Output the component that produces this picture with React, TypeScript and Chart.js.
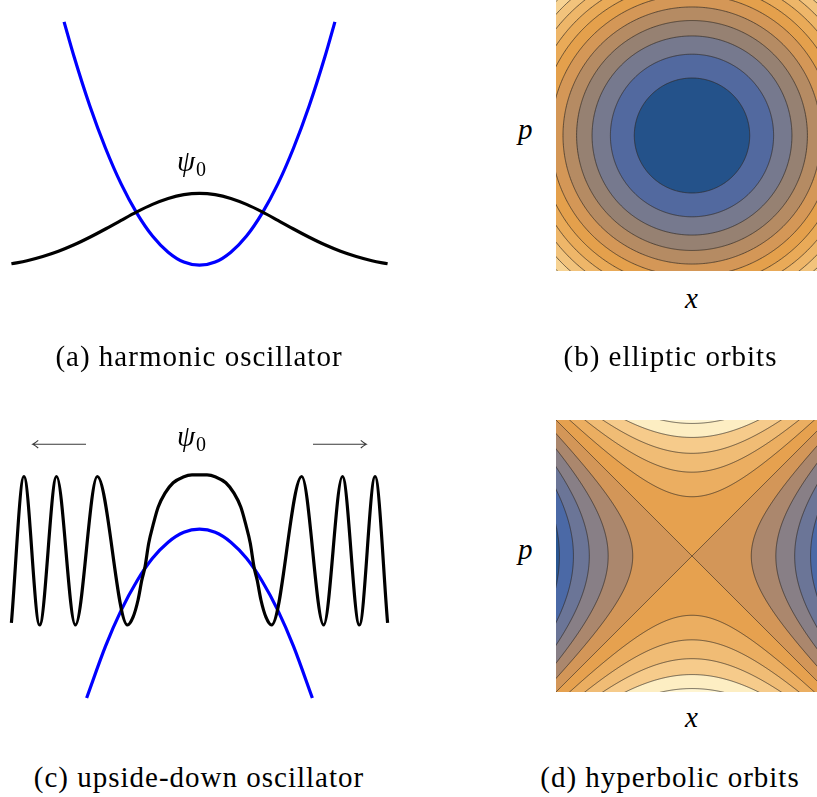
import React, { useEffect, useRef } from 'react';
import { Chart, registerables } from 'chart.js';

Chart.register(...registerables);

// ---------- Panel (a): harmonic oscillator ----------
const gaussX = [-3, -2.75, -2.5, -2.25, -2, -1.75, -1.5, -1.25, -1, -0.75, -0.5, -0.25, 0, 0.25, 0.5, 0.75, 1, 1.25, 1.5, 1.75, 2, 2.25, 2.5, 2.75, 3];
const gaussY = [0.027, 0.086, 0.166, 0.267, 0.391, 0.536, 0.695, 0.861, 1.023, 1.167, 1.281, 1.355, 1.38, 1.355, 1.281, 1.167, 1.023, 0.861, 0.695, 0.536, 0.391, 0.267, 0.166, 0.086, 0.027];
const wellX = [-2.16, -2, -1.75, -1.5, -1.25, -1, -0.75, -0.5, -0.25, 0, 0.25, 0.5, 0.75, 1, 1.25, 1.5, 1.75, 2, 2.16];
const wellY = [4.67, 4.0, 3.06, 2.25, 1.56, 1.0, 0.56, 0.25, 0.06, 0, 0.06, 0.25, 0.56, 1.0, 1.56, 2.25, 3.06, 4.0, 4.67];

// ---------- Panel (c): upside-down oscillator ----------
const waveX = [-3.0, -2.8, -2.55, -2.28, -1.98, -1.63, -1.15, -1.06, -0.98, -0.92, -0.87, -0.81, -0.74, -0.66, -0.55, -0.42, -0.26, -0.12, 0, 0.12, 0.26, 0.42, 0.55, 0.66, 0.74, 0.81, 0.87, 0.92, 0.98, 1.06, 1.15, 1.63, 1.98, 2.28, 2.55, 2.8, 3.0];
const waveY = [0.04, 2.85, 0, 2.85, 0, 2.85, 0, 0.15, 0.48, 0.86, 1.11, 1.57, 1.92, 2.26, 2.53, 2.73, 2.84, 2.88, 2.88, 2.88, 2.84, 2.73, 2.53, 2.26, 1.92, 1.57, 1.11, 0.86, 0.48, 0.15, 0, 2.85, 0, 2.85, 0, 2.85, 0.04];
const hillX = [-1.8, -1.5, -1.25, -1, -0.75, -0.5, -0.25, 0, 0.25, 0.5, 0.75, 1, 1.25, 1.5, 1.8];
const hillY = [-1.4, -0.41, 0.28, 0.84, 1.28, 1.59, 1.78, 1.84, 1.78, 1.59, 1.28, 0.84, 0.28, -0.41, -1.4];
const arrowFrom = [-1.81, 1.81];
const arrowTo = [-2.66, 2.66];
const arrowY = [3.47, 3.47];

// ---------- Panel (b): elliptic orbits (levels of x^2 + p^2) ----------
const ellipticLevels = [0.18, 0.36, 0.54, 0.72, 0.9, 1.08, 1.26, 1.44, 1.62, 1.8, 1.98, 2.16];
const ellipticColors = ['#24528a', '#52699f', '#76798e', '#968172', '#b58b63', '#d49757', '#e4a04c', '#e9aa58', '#eeb669', '#f2c37c', '#f7d393', '#fce6b2'];

// ---------- Panel (d): hyperbolic orbits (levels of p^2 - x^2) ----------
const hyperbolicLevels = [0.19, 0.38, 0.57, 0.76, 0.95];
const upperColors = ['#e6a14f', '#ebae61', '#f0bc75', '#f6cb8b', '#fdeec3', '#fff5d2'];
const lowerColors = ['#d39658', '#ab876d', '#887f86', '#6b7597', '#4b69a6', '#2a5692'];

const CONTOUR_LINE = 'rgba(45,38,32,0.85)';

const xy = (xs: number[], ys: number[]) => xs.map((x, i) => ({ x, y: ys[i] }));

function circlePts(level: number) {
  const r = Math.sqrt(level);
  const pts: { x: number; y: number }[] = [];
  for (let i = 0; i <= 240; i++) {
    const t = (i / 240) * Math.PI * 2;
    pts.push({ x: r * Math.cos(t), y: r * Math.sin(t) });
  }
  return pts;
}
function capPts(level: number, sign: number) {
  const pts: { x: number; y: number }[] = [];
  for (let i = 0; i <= 320; i++) {
    const x = -1.6 + i * 0.01;
    pts.push({ x, y: sign * Math.sqrt(x * x + level) });
  }
  pts.push({ x: 1.6, y: sign * 3 }, { x: -1.6, y: sign * 3 });
  return pts;
}
function sidePts(level: number, sign: number) {
  const pts: { x: number; y: number }[] = [];
  for (let i = 0; i <= 320; i++) {
    const p = -1.6 + i * 0.01;
    pts.push({ x: sign * Math.sqrt(p * p + level), y: p });
  }
  pts.push({ x: sign * 3, y: 1.6 }, { x: sign * 3, y: -1.6 });
  return pts;
}

function baseOptions(xMin: number, xMax: number, yMin: number, yMax: number): any {
  return {
    animation: false,
    responsive: false,
    events: [],
    layout: { padding: 0 },
    plugins: { legend: { display: false }, tooltip: { enabled: false } },
    elements: { point: { radius: 0, hoverRadius: 0 }, line: { capBezierPoints: false } },
    scales: {
      x: { type: 'linear', min: xMin, max: xMax, display: false },
      y: { type: 'linear', min: yMin, max: yMax, display: false },
    },
  };
}

const curve = (data: any, color: string) => ({
  data,
  borderColor: color,
  borderWidth: 3.2,
  fill: false,
  pointRadius: 0,
  cubicInterpolationMode: 'monotone',
  borderCapStyle: 'butt',
});

function buildA(): any {
  return {
    type: 'line',
    data: { datasets: [curve(xy(gaussX, gaussY), '#000000'), curve(xy(wellX, wellY), '#0000ff')] },
    options: baseOptions(-3.1818, 3.1818, -0.476, 5.0902),
  };
}

const arrowPlugin = {
  id: 'arrowsC',
  afterDatasetsDraw(chart: any) {
    const { ctx, scales } = chart;
    ctx.save();
    ctx.strokeStyle = '#3a3a3a';
    ctx.lineWidth = 1.1;
    for (let i = 0; i < arrowFrom.length; i++) {
      const x0 = scales.x.getPixelForValue(arrowFrom[i]);
      const x1 = scales.x.getPixelForValue(arrowTo[i]);
      const yy = scales.y.getPixelForValue(arrowY[i]);
      const d = Math.sign(x1 - x0);
      ctx.beginPath();
      ctx.moveTo(x0, yy);
      ctx.lineTo(x1, yy);
      ctx.moveTo(x1 - d * 5.5, yy - 3.8);
      ctx.quadraticCurveTo(x1 - d * 2, yy - 0.8, x1, yy);
      ctx.quadraticCurveTo(x1 - d * 2, yy + 0.8, x1 - d * 5.5, yy + 3.8);
      ctx.stroke();
    }
    ctx.restore();
  },
};

function buildC(): any {
  return {
    type: 'line',
    data: { datasets: [curve(xy(waveX, waveY), '#000000'), curve(xy(hillX, hillY), '#0000ff')] },
    options: baseOptions(-3.1818, 3.1818, -1.6315, 4.3186),
    plugins: [arrowPlugin],
  };
}

const region = (data: any, color: string, border: number) => ({
  data,
  fill: 'shape',
  backgroundColor: color,
  borderColor: CONTOUR_LINE,
  borderWidth: border,
  pointRadius: 0,
  tension: 0.0001,
});

function buildB(): any {
  // smallest circle first -> drawn on top
  const datasets = ellipticLevels.map((lv, i) =>
    region(circlePts(lv), ellipticColors[i], i === ellipticLevels.length - 1 ? 0 : 0.8)
  );
  return { type: 'line', data: { datasets }, options: baseOptions(-1, 1, -1, 1) };
}

function buildD(): any {
  const drawOrder: any[] = [];
  drawOrder.push(region([{ x: -3, y: -3 }, { x: 3, y: -3 }, { x: 3, y: 3 }, { x: -3, y: 3 }], lowerColors[0], 0));
  for (const s of [1, -1]) {
    const tri: { x: number; y: number }[] = [];
    for (let i = 0; i <= 360; i++) {
      const x = -1.8 + i * 0.01;
      tri.push({ x, y: s * Math.abs(x) });
    }
    tri.push({ x: 1.8, y: s * 3 }, { x: -1.8, y: s * 3 });
    drawOrder.push(region(tri, upperColors[0], 0.8));
  }
  for (const s of [1, -1]) {
    hyperbolicLevels.forEach((lv, i) => drawOrder.push(region(capPts(lv, s), upperColors[i + 1], 0.8)));
  }
  for (const s of [-1, 1]) {
    hyperbolicLevels.forEach((lv, i) => drawOrder.push(region(sidePts(lv, s), lowerColors[i + 1], 0.8)));
  }
  return { type: 'line', data: { datasets: drawOrder.reverse() }, options: baseOptions(-1, 1, -1, 1) };
}

function ChartBox({ left, top, width, height, build }: { left: number; top: number; width: number; height: number; build: () => any }) {
  const ref = useRef<HTMLCanvasElement | null>(null);
  useEffect(() => {
    const chart = new Chart(ref.current as HTMLCanvasElement, build());
    return () => chart.destroy();
  }, []);
  return (
    <canvas
      ref={ref}
      width={width}
      height={height}
      style={{ position: 'absolute', left, top, width, height, display: 'block' }}
    />
  );
}

const SERIF = '"Liberation Serif", "Times New Roman", serif';

function Txt({ x, baseline, size, italic, center, spacing, children }: any) {
  const style: any = {
    position: 'absolute',
    top: baseline - 0.8374 * size,
    fontFamily: SERIF,
    fontSize: size,
    lineHeight: `${size}px`,
    fontStyle: italic ? 'italic' : 'normal',
    whiteSpace: 'nowrap',
    color: '#000',
    letterSpacing: spacing || 0,
  };
  if (center) {
    style.left = x - 300;
    style.width = 600;
    style.textAlign = 'center';
  } else {
    style.left = x;
  }
  return <div style={style}>{children}</div>;
}

function Psi({ x, baseline }: { x: number; baseline: number }) {
  return (
    <Txt x={x} baseline={baseline} size={29} italic>
      ψ
      <span style={{ fontStyle: 'normal', fontSize: 20, position: 'relative', top: 5, marginLeft: 1 }}>0</span>
    </Txt>
  );
}

export default function App() {
  return (
    <div style={{ position: 'fixed', left: 0, top: 0, width: 817, height: 797, overflow: 'hidden', background: '#ffffff' }}>
      <ChartBox left={0} top={0} width={399} height={290} build={buildA} />
      <ChartBox left={556} top={0} width={272} height={271} build={buildB} />
      <ChartBox left={0} top={400} width={399} height={310} build={buildC} />
      <ChartBox left={556} top={420} width={272} height={272} build={buildD} />

      <Psi x={177} baseline={171} />
      <Psi x={177} baseline={446} />

      <Txt x={518} baseline={139} size={29} italic>p</Txt>
      <Txt x={685} baseline={308} size={29} italic>x</Txt>
      <Txt x={518} baseline={559} size={29} italic>p</Txt>
      <Txt x={685} baseline={727} size={29} italic>x</Txt>

      <Txt x={199} baseline={366} size={29} center spacing="1px">(a) harmonic oscillator</Txt>
      <Txt x={670.5} baseline={366} size={29} center spacing="1px">(b) elliptic orbits</Txt>
      <Txt x={199} baseline={787} size={29} center spacing="1px">(c) upside-down oscillator</Txt>
      <Txt x={670} baseline={787} size={29} center spacing="1px">(d) hyperbolic orbits</Txt>
    </div>
  );
}
